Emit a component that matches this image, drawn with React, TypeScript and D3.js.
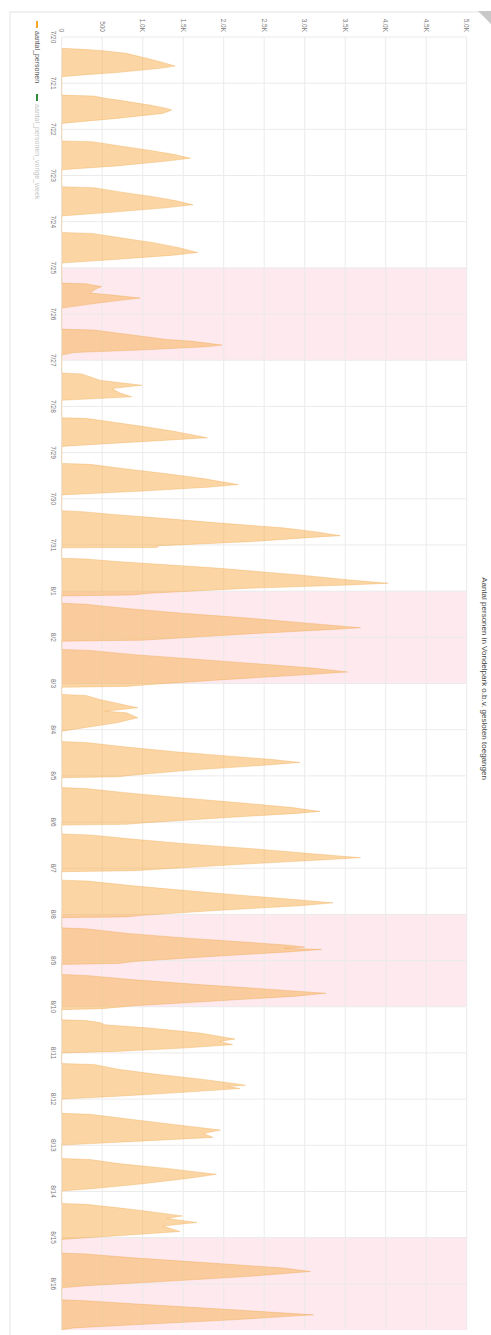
import * as d3 from "d3";

// chart is drawn landscape (time along x) and turned 90deg clockwise
const W = 1335;
const H = 491;

const startDate = new Date(2020, 6, 20);
const endDate = new Date(2020, 7, 17);

const dayLabels = [
  "7/20", "7/21", "7/22", "7/23", "7/24", "7/25", "7/26", "7/27", "7/28", "7/29",
  "7/30", "7/31", "8/1", "8/2", "8/3", "8/4", "8/5", "8/6", "8/7", "8/8",
  "8/9", "8/10", "8/11", "8/12", "8/13", "8/14", "8/15", "8/16",
];

const valueTicks = [0, 500, 1000, 1500, 2000, 2500, 3000, 3500, 4000, 4500, 5000];
const valueTickLabels = ["0", "500", "1.0K", "1.5K", "2.0K", "2.5K", "3.0K", "3.5K", "4.0K", "4.5K", "5.0K"];

// weekend bands: start day index, number of days
const weekendStarts = [5, 12, 19, 26];

// per day: [hour after midnight, persons]
const dayProfiles: [number, number][][] = [
  [[5.9, 0], [6.4, 265], [7.1, 510], [8.5, 800], [11.1, 1050], [12.8, 1215], [15.1, 1400], [16.3, 1215], [18.5, 680], [19.7, 265], [20.6, 0]],
  [[6.2, 0], [6.7, 400], [8.0, 560], [8.8, 700], [11.4, 1090], [13.1, 1300], [14.0, 1360], [15.7, 1250], [18.3, 680], [20.9, 0]],
  [[6.0, 0], [6.4, 380], [8.5, 700], [11.0, 1100], [13.0, 1380], [15.0, 1590], [16.5, 1300], [19.0, 680], [21.0, 0]],
  [[5.8, 0], [6.3, 400], [8.5, 720], [11.0, 1130], [13.0, 1400], [15.2, 1620], [16.8, 1280], [19.0, 650], [21.0, 0]],
  [[5.6, 0], [6.1, 380], [8.5, 750], [11.0, 1150], [13.5, 1450], [16.0, 1680], [17.5, 1350], [19.5, 700], [21.5, 0]],
  [[7.9, 0], [8.3, 300], [9.7, 495], [11.0, 420], [13.1, 350], [14.0, 600], [15.7, 970], [17.0, 700], [18.3, 450], [20.9, 0]],
  [[7.8, 0], [8.3, 400], [10.5, 800], [11.4, 970], [13.2, 1300], [14.0, 1590], [16.1, 1980], [17.0, 1790], [18.7, 970], [20.0, 150], [21.3, 0]],
  [[6.6, 0], [7.1, 250], [10.4, 470], [13.0, 990], [14.7, 620], [17.0, 720], [19.0, 865], [20.8, 0]],
  [[5.9, 0], [6.2, 300], [8.0, 600], [10.2, 970], [12.8, 1370], [16.3, 1800], [17.8, 1200], [19.5, 500], [20.8, 0]],
  [[5.6, 0], [6.1, 350], [8.5, 800], [11.0, 1300], [13.5, 1750], [16.6, 2180], [18.0, 1800], [20.0, 1000], [22.0, 0]],
  [[6.2, 0], [6.7, 260], [8.3, 680], [9.9, 1170], [12.5, 1920], [15.1, 2730], [17.2, 3150], [19.2, 3440], [19.7, 3220], [22.3, 2320], [24.4, 1210], [25.3, 1170], [25.5, 0]],
  [[6.9, 0], [7.3, 300], [8.6, 680], [12.0, 1910], [15.6, 2940], [18.2, 3560], [19.9, 4030], [20.8, 3560], [22.5, 2320], [25.1, 1090], [26.0, 880], [26.5, 0]],
  [[6.3, 0], [6.8, 300], [9.0, 800], [11.5, 1500], [14.0, 2300], [16.5, 3000], [19.0, 3690], [19.8, 3400], [22.0, 2400], [24.5, 1400], [25.5, 1000], [26.0, 0]],
  [[6.3, 0], [6.8, 350], [9.0, 900], [11.5, 1700], [14.0, 2500], [16.0, 3100], [18.0, 3530], [19.5, 3000], [22.0, 2000], [24.5, 1100], [25.5, 800], [26.0, 0]],
  [[5.7, 0], [6.2, 300], [8.3, 470], [12.6, 940], [14.4, 535], [15.2, 800], [17.8, 940], [20.4, 680], [24.8, 0]],
  [[6.2, 0], [6.7, 300], [9.0, 800], [11.5, 1400], [13.5, 2000], [15.5, 2600], [17.0, 2940], [18.5, 2500], [21.0, 1600], [23.5, 900], [24.5, 700], [25.0, 0]],
  [[6.1, 0], [6.6, 300], [9.0, 850], [11.5, 1500], [14.0, 2200], [16.5, 2850], [18.5, 3190], [19.5, 2900], [22.0, 1900], [24.5, 1000], [25.2, 800], [25.6, 0]],
  [[6.2, 0], [6.7, 350], [9.0, 900], [11.5, 1600], [14.0, 2400], [16.5, 3100], [18.5, 3690], [19.5, 3300], [22.0, 2200], [24.5, 1200], [25.3, 900], [25.8, 0]],
  [[6.2, 0], [6.7, 320], [9.0, 850], [11.5, 1500], [14.0, 2200], [16.0, 2800], [18.0, 3350], [19.5, 2950], [22.0, 1900], [24.5, 1000], [25.3, 800], [25.7, 0]],
  [[7.0, 0], [7.5, 300], [10.0, 850], [12.5, 1600], [14.5, 2300], [16.0, 2800], [17.0, 3000], [17.6, 2750], [18.2, 3210], [19.5, 2800], [22.0, 1800], [24.5, 900], [25.5, 700], [26.0, 0]],
  [[7.2, 0], [7.7, 300], [10.0, 900], [12.5, 1700], [15.0, 2600], [17.0, 3260], [18.5, 2900], [21.0, 1900], [23.5, 900], [25.0, 500], [25.5, 0]],
  [[6.8, 0], [7.2, 300], [8.2, 470], [9.4, 535], [11.1, 1090], [13.7, 1710], [16.8, 2140], [18.0, 1950], [19.7, 2110], [21.5, 1500], [23.2, 680], [24.0, 0]],
  [[5.5, 0], [6.0, 400], [8.5, 700], [11.0, 1150], [13.5, 1700], [16.0, 2150], [16.8, 2270], [17.5, 2050], [18.5, 2200], [20.5, 1500], [22.5, 700], [24.0, 0]],
  [[7.4, 0], [7.9, 350], [10.0, 750], [12.5, 1250], [14.5, 1650], [16.1, 1960], [17.9, 1750], [19.9, 1870], [22.0, 900], [23.9, 0]],
  [[6.9, 0], [7.4, 350], [9.5, 700], [12.0, 1300], [15.1, 1910], [17.0, 1600], [20.0, 1000], [22.5, 400], [23.7, 0]],
  [[6.2, 0], [6.7, 300], [8.5, 700], [10.5, 1100], [12.7, 1490], [14.0, 1300], [16.1, 1670], [18.0, 1250], [20.8, 1460], [23.0, 700], [24.9, 0]],
  [[8.0, 0], [8.5, 300], [10.5, 890], [14.0, 2120], [15.8, 2740], [17.6, 3070], [20.1, 2330], [22.7, 1300], [25.0, 310], [26.1, 0]],
  [[8.3, 0], [8.8, 300], [10.4, 890], [13.5, 2120], [16.1, 3110], [18.7, 2120], [21.3, 890], [22.9, 150], [23.9, 0]],
];

const title = "Aantal personen in Vondelpark o.b.v. gesloten toegangen";
const legendNames = ["aantal_personen", "aantal_personen_vorige_week"];

const dayDate = (i: number) => d3.timeDay.offset(startDate, i);

export default function App() {
  const x = d3.scaleTime().domain([startDate, endDate]).range([37, 1330]);
  const y = d3.scaleLinear().domain([0, 5000]).range([429.3, 24.3]);

  const series = dayProfiles.flatMap((pts, i) =>
    pts.map(([h, v]) => ({ t: new Date(dayDate(i).getTime() + h * 3600e3), v }))
  );

  const area = d3.area<{ t: Date; v: number }>()
    .x(d => x(d.t))
    .y0(y(0))
    .y1(d => y(d.v));
  const line = d3.line<{ t: Date; v: number }>()
    .x(d => x(d.t))
    .y(d => y(d.v));

  const font = "'Liberation Sans', Arial, sans-serif";

  return (
    <svg width={491} height={1335} style={{ position: "absolute", left: 0, top: 0 }}>
      <rect width={491} height={1335} fill="#fff" />
      <g transform={`translate(${H},0) rotate(90)`} fontFamily={font}>
        {/* card border */}
        <rect x={12} y={-4} width={W} height={485} fill="none" stroke="#e3e3e3" />

        {/* weekend bands */}
        {weekendStarts.map(s => (
          <rect key={s} x={x(dayDate(s))} y={y(5000)}
            width={x(dayDate(s + 2)) - x(dayDate(s))} height={y(0) - y(5000)}
            fill="#fde9ee" />
        ))}

        {/* grid */}
        {valueTicks.map(v => (
          <line key={v} x1={x(startDate)} x2={x(endDate)} y1={y(v)} y2={y(v)} stroke="#ebebeb" />
        ))}
        {dayLabels.map((_, i) => (
          <line key={i} x1={x(dayDate(i))} x2={x(dayDate(i))} y1={y(5000)} y2={y(0)} stroke="#ebebeb" />
        ))}

        <path d={area(series) ?? ""} fill="#f7ad4a" fillOpacity={0.5} />
        <path d={line(series) ?? ""} fill="none" stroke="#f0a040" strokeOpacity={0.45} strokeWidth={0.7} />

        {/* value axis labels */}
        {valueTicks.map((v, i) => (
          <text key={v} x={32} y={y(v)} dy="0.35em" textAnchor="end" fontSize={6.5} fill="#777">
            {valueTickLabels[i]}
          </text>
        ))}

        {/* date labels */}
        {dayLabels.map((lab, i) => (
          <text key={lab} x={x(dayDate(i))} y={440} textAnchor="middle" fontSize={6.5} fill="#777">
            {lab}
          </text>
        ))}

        {/* title */}
        <text x={(37 + 1330) / 2 - 5} y={9} textAnchor="middle" fontSize={8} fill="#444">
          {title}
        </text>

        {/* legend */}
        <line x1={21} x2={28} y1={454} y2={454} stroke="#f5a623" strokeWidth={2} />
        <text x={31} y={456.5} fontSize={7} fill="#555">{legendNames[0]}</text>
        <line x1={94} x2={101} y1={454} y2={454} stroke="#2e8b3a" strokeWidth={2} />
        <text x={104} y={456.5} fontSize={7} fill="#c4c4c4">{legendNames[1]}</text>
      </g>
      <polygon points="478,11 491,11 491,24" fill="#c8c8c8" />
    </svg>
  );
}
